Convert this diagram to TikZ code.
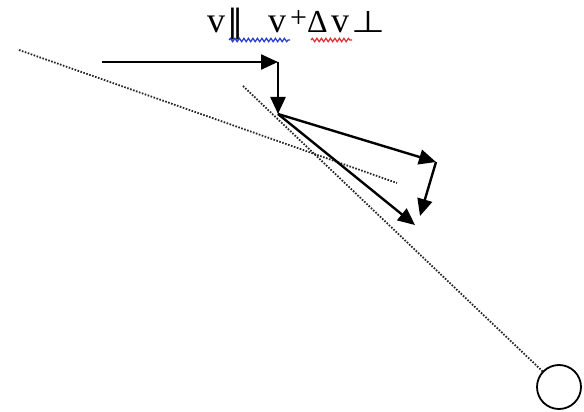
\documentclass[tikz,border=0pt]{standalone}
\usepackage{fontspec}
\usepackage{graphicx}
\setmainfont{Liberation Serif}
\newfontfamily\symbfont{DejaVu Sans}
\usetikzlibrary{arrows.meta,decorations.pathmorphing}
\definecolor{squigblue}{RGB}{40,60,210}
\definecolor{squigred}{RGB}{220,50,50}
\begin{document}
\begin{tikzpicture}[x=1pt,y=-1pt,
  vec/.style={line width=2.4pt,-{Triangle[length=17pt,width=15pt]}},
  dotline/.style={line width=1.8pt,black!85,dash pattern=on 1.6pt off 1.5pt},
  squig/.style={line width=1.2pt,decorate,decoration={snake,amplitude=1.7pt,segment length=4.5pt}}]
\useasboundingbox (0,0) rectangle (584,412);
% label
\node[anchor=base west,inner sep=0pt,font=\fontsize{36}{36}\selectfont] (lbl) at (207,33)
  {\makebox[20pt][l]{v}\makebox[41pt][l]{\symbfont\fontsize{32}{32}\selectfont ‖}\makebox[22pt][l]{v}\makebox[17pt][l]{\raisebox{5pt}{\fontsize{30}{30}\selectfont +}}\makebox[24pt][l]{\fontsize{32}{32}\selectfont Δ}\makebox[20pt][l]{v}\scalebox{1.3}[1]{\symbfont\fontsize{30}{30}\selectfont ⊥}};
\coordinate (sb1) at (229,40); \coordinate (sb2) at (290,40);
\coordinate (sr1) at (311,40); \coordinate (sr2) at (352,40);
\draw[squig,squigblue] (sb1) -- (sb2);
\draw[squig,squigred] (sr1) -- (sr2);
% points
\coordinate (hs) at (102,62);
\coordinate (corner) at (278,62);
\coordinate (P) at (278,114);
\coordinate (A) at (436,162);
\coordinate (B) at (415,225);
\coordinate (C) at (420,216);
\coordinate (d1a) at (19,50);
\coordinate (d1b) at (397,183);
\coordinate (d2a) at (243,86);
\node[draw,circle,line width=1.8pt,minimum size=44pt,inner sep=0pt] (circ) at (559,387) {};
% dotted lines
\draw[dotline] (d1a) -- (d1b);
\draw[dotline] (d2a) -- (circ);
% vectors
\draw[vec] (hs) -- (corner);
\draw[vec] (corner) -- (P);
\draw[vec] (P) -- (A);
\draw[vec] (P) -- (B);
\draw[vec] (A) -- (C);
\end{tikzpicture}
\end{document}
